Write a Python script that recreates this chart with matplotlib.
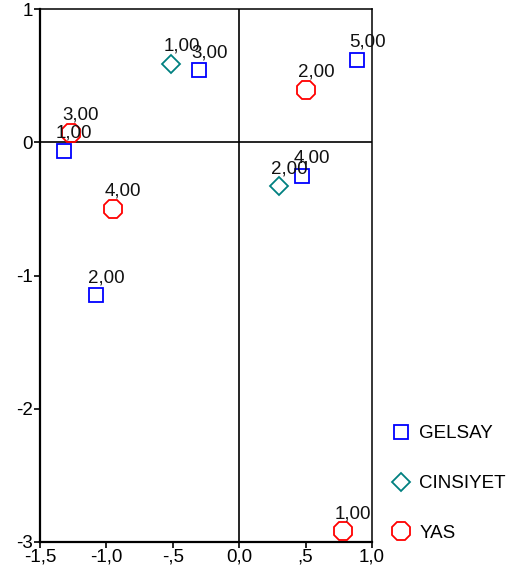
import matplotlib
matplotlib.use("Agg")
import matplotlib.pyplot as plt

plt.rcParams['font.family'] = ['Liberation Sans', 'DejaVu Sans']

# Data
gelsay_labels = ["1,00", "2,00", "3,00", "4,00", "5,00"]
gelsay_x = [-1.32, -1.08, -0.30, 0.47, 0.89]
gelsay_y = [-0.065, -1.15, 0.54, -0.25, 0.62]

cins_labels = ["1,00", "2,00"]
cins_x = [-0.51, 0.30]
cins_y = [0.59, -0.33]

yas_labels = ["1,00", "2,00", "3,00", "4,00"]
yas_x = [0.78, 0.50, -1.27, -0.95]
yas_y = [-2.92, 0.395, 0.07, -0.50]

xticks = [-1.5, -1.0, -0.5, 0.0, 0.5, 1.0]
xtick_labels = ["-1,5", "-1,0", "-,5", "0,0", ",5", "1,0"]
yticks = [-3, -2, -1, 0, 1]
ytick_labels = ["-3", "-2", "-1", "0", "1"]

FS = 13.5

fig = plt.figure(figsize=(5.13, 5.8), dpi=100)
ax = fig.add_axes([40/513, 38/580, 332/513, 533/580])

ax.axhline(0, color='black', lw=1.2, zorder=1)
ax.axvline(0, color='black', lw=1.2, zorder=1)

ax.plot(gelsay_x, gelsay_y, linestyle='none', marker='s', ms=9.9, mfc='none',
        mec='#0000ff', mew=1.3, label='GELSAY', zorder=3)
ax.plot(cins_x, cins_y, linestyle='none', marker='D', ms=9.2, mfc='none',
        mec='#008080', mew=1.3, label='CINSIYET', zorder=3)
ax.plot(yas_x, yas_y, linestyle='none', marker='8', ms=14.0, mfc='none',
        mec='#ff0000', mew=1.3, label='YAS', zorder=3)

for labs, xs, ys in [(gelsay_labels, gelsay_x, gelsay_y),
                     (cins_labels, cins_x, cins_y),
                     (yas_labels, yas_x, yas_y)]:
    for l, x, y in zip(labs, xs, ys):
        ax.annotate(l, (x, y), xytext=(-5.8, 9.4), textcoords='offset points',
                    ha='left', va='baseline', fontsize=FS, color='#111111', zorder=4)

ax.set_xlim(-1.5, 1.0)
ax.set_ylim(-3, 1)
ax.set_xticks(xticks)
ax.set_xticklabels(xtick_labels)
ax.set_yticks(yticks)
ax.set_yticklabels(ytick_labels)
ax.tick_params(direction='out', length=4, width=1.2, labelsize=FS, pad=1)
for s in ['left', 'bottom']:
    ax.spines[s].set_linewidth(1.6)
for s in ['right', 'top']:
    ax.spines[s].set_linewidth(1.1)

leg = fig.legend(loc='upper left', bbox_to_anchor=(392/513, 1 - 425/580),
                 frameon=False, fontsize=FS, labelspacing=1.75,
                 handlelength=1.0, handletextpad=0.45, borderaxespad=0, borderpad=0)

fig.savefig("out.png", dpi=100)
